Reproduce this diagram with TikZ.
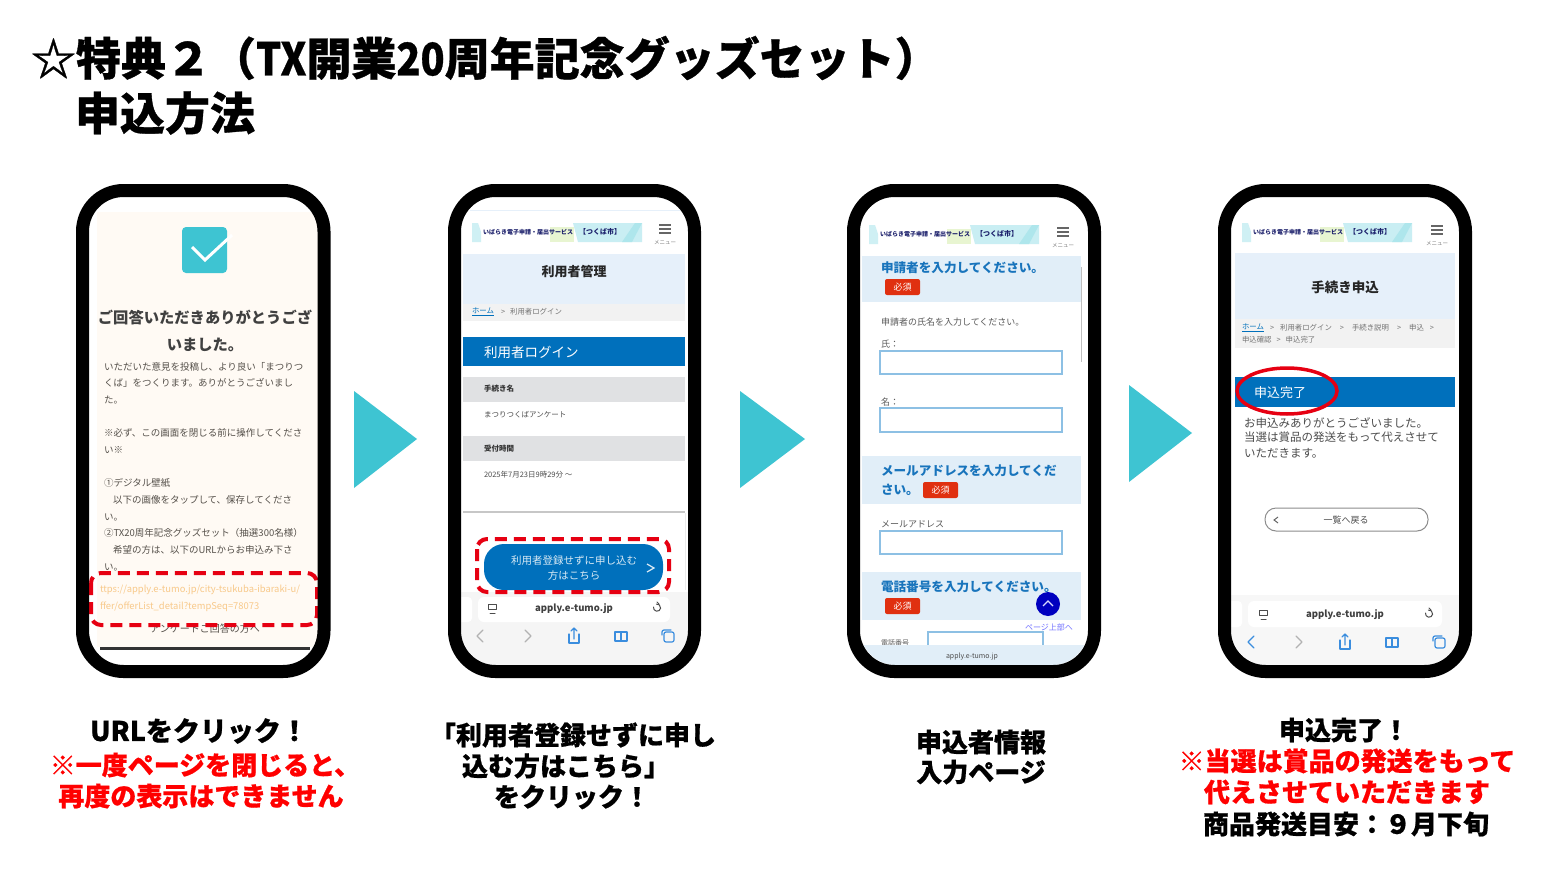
\documentclass[tikz,border=0pt]{standalone}
\usepackage{fontspec}
\usepackage{graphicx}
\setmainfont{Noto Sans CJK JP}
\newfontfamily\hvy{Noto Sans CJK JP}[BoldFeatures={FakeBold=0.7}]
\usetikzlibrary{arrows.meta}
\definecolor{teal1}{HTML}{3EC4D2}
\definecolor{webblue}{HTML}{0070BC}
\definecolor{bandblue}{HTML}{E6F0FA}
\definecolor{formband}{HTML}{E1EEF8}
\definecolor{crumb}{HTML}{F2F2F2}
\definecolor{greyband}{HTML}{E0E1E3}
\definecolor{cream}{HTML}{FFFAF4}
\definecolor{navy}{HTML}{1B1F6B}
\definecolor{headblue}{HTML}{1874BC}
\definecolor{badge}{HTML}{E03010}
\definecolor{inputb}{HTML}{8DC0E4}
\definecolor{redmark}{HTML}{E60012}
\definecolor{capred}{HTML}{FF0000}
\definecolor{urlorange}{HTML}{F8C98A}
\definecolor{bodygrey}{HTML}{55504A}
\definecolor{iosblue}{HTML}{3A8DDE}
\tikzset{
  sz/.style={font=\fontsize{#1}{#1}\selectfont},
  bsz/.style={font=\fontsize{#1}{#1}\selectfont\bfseries},
  hsz/.style={font=\fontsize{#1}{#1}\selectfont\hvy\bfseries},
  txt/.style={inner sep=0pt,outer sep=0pt,anchor=west},
  ctr/.style={inner sep=0pt,outer sep=0pt,anchor=center},
  frame/.style={draw=black,line width=13pt,rounded corners=41pt},
  redbox/.style={draw=redmark,line width=4pt,dashed,dash pattern=on 12pt off 7pt,rounded corners=10pt},
  input/.style={draw=inputb,line width=1.5pt,fill=white},
  arrowtri/.style={fill=teal1,draw=none},
  icon/.style={draw=iosblue,line width=1.2pt,line cap=round,line join=round},
  greyicon/.style={draw=black!30,line width=1.2pt,line cap=round,line join=round},
  darkicon/.style={draw=black!70,line width=1pt,line cap=round,line join=round},
  badgebox/.style={ctr,fill=badge,rounded corners=2pt,minimum width=35pt,minimum height=16pt,sz=9,text=white},
  formhead/.style={txt,bsz=12.6,text=headblue},
  formtext/.style={txt,sz=9,text=black!65},
  body/.style={txt,sz=9.5,text=bodygrey},
}
\newcommand{\weblogo}[4]{% dx dy hamburgerx hamburgery
  \begin{scope}[shift={(#1,#2)}]
    \fill[teal1!25] (472,223) -- (478,223) -- (481,232) -- (481,242) -- (472,242) -- cycle;
    \fill[yellow!50!green!18] (550,227) rectangle (574,242);
    \fill[teal1!28] (573,223) -- (642,223) -- (642,242) -- (578,242) -- cycle;
    \fill[teal1!42] (642,223) -- (635,223) -- (622,242) -- (632,242) -- cycle;
    \node[txt,bsz=6,text=navy] at (483,232) {いばらき電子申請・届出サービス};
    \node[txt,bsz=7,text=navy] at (579,232) {【つくば市】};
  \end{scope}
  \begin{scope}[shift={(#3,#4)}]
    \draw[black!60,line width=1.3pt] (-6,-4) -- (6,-4) (-6,0) -- (6,0) (-6,4) -- (6,4);
    \node[ctr,sz=5.5,text=black!50] at (0,13) {メニュー};
  \end{scope}
}
\newcommand{\navrow}[3]{% x y backcolour style
  \begin{scope}[shift={(#1,#2)}]
    \draw[#3] (5,-6) -- (-1,0) -- (5,6);
    \draw[greyicon] (47,-6) -- (53,0) -- (47,6);
    \draw[icon] (91,-2) -- (91,7) -- (101,7) -- (101,-2);
    \draw[icon] (96,3) -- (96,-8) (93,-5) -- (96,-8) -- (99,-5);
    \draw[icon] (137,-4) rectangle (149,5) (143,-4) -- (143,5);
    \draw[icon,rounded corners=2pt] (186,-4) rectangle (196,6);
    \draw[icon,rounded corners=2pt] (184,-1) -- (184,-6) -- (193,-6);
  \end{scope}
}
\newcommand{\pillicons}[3]{% left x, right x, y
  \draw[darkicon] (#1-4,#3-4) rectangle (#1+4,#3+1) (#1-2,#3+5) -- (#1+3,#3+5);
  \begin{scope}[shift={(#2,#3)}]
    \draw[darkicon] (-3.5,-1) arc[start angle=190,end angle=-100,radius=3.6];
    \draw[darkicon] (0,-6) -- (2,-4);
  \end{scope}
}
\newcommand{\cond}[1]{\scalebox{0.88}[1]{#1}}
\begin{document}
\begin{tikzpicture}[x=1pt,y=-1pt]
\useasboundingbox (0,0) rectangle (1563,880);
\fill[white] (0,0) rectangle (1563,880);

% Title
\node[txt,hsz=45] (title1) at (31,58) {☆特典２（\cond{TX}開業\cond{20}周年記念グッズセット）};
\node[txt,hsz=45] (title2) at (75,113) {申込方法};

% ===== Phone 1
\begin{scope}
\clip[rounded corners=36pt] (89,197) rectangle (318,665);
\fill[white] (89,197) rectangle (318,665);
\fill[cream] (97,212) rectangle (318,647);
\fill[teal1,rounded corners=4pt] (182,227) rectangle (227,273);
\draw[white,line width=3pt] (192,247) -- (205,260) -- (232,235);
\node[ctr,bsz=15.3,text=black!75] (a1) at (205,318) {ご回答いただきありがとうござ};
\node[ctr,bsz=15.3,text=black!75] (a2) at (205,345) {いました。};
\node[body] (a3) at (104,367) {いただいた意見を投稿し、より良い「まつりつ};
\node[body] (a4) at (104,383) {くば」をつくります。ありがとうございまし};
\node[body] (a5) at (104,400) {た。};
\node[body] (a6) at (104,433) {※必ず、この画面を閉じる前に操作してくださ};
\node[body] (a7) at (104,450) {い※};
\node[body] (a8) at (104,483) {①デジタル壁紙};
\node[body] (a9) at (113,500) {以下の画像をタップして、保存してくださ};
\node[body] (a10) at (104,517) {い。};
\node[body] (a11) at (104,533) {②TX20周年記念グッズセット（抽選300名様）};
\node[body] (a12) at (113,550) {希望の方は、以下のURLからお申込み下さ};
\node[body] (a13) at (104,567) {い。};
\node[txt,sz=9.4,text=urlorange] (a14) at (100,590) {ttps://apply.e-tumo.jp/city-tsukuba-ibaraki-u/};
\node[txt,sz=9.4,text=urlorange] (a15) at (100,607) {ffer/offerList\_detail?tempSeq=78073};
\node[ctr,sz=10,text=bodygrey] (a16) at (205,629) {アンケートご回答の方へ};
\draw[black!80,line width=3pt] (100,648) -- (310,648);
\end{scope}
\draw[redbox] (91,573) rectangle (317,625);
\draw[frame] (82.5,190.5) rectangle (324,671.5);

% ===== Phone 2
\begin{scope}
\clip[rounded corners=36pt] (461,197) rectangle (688,665);
\fill[white] (461,197) rectangle (688,665);
\draw[bandblue,line width=1pt] (470,210) -- (682,210);
\weblogo{0}{0}{665}{229}
\fill[bandblue] (463,254) rectangle (685,304);
\node[ctr,bsz=13,text=black!85] (b1) at (574,272) {利用者管理};
\fill[crumb] (463,304) rectangle (685,321);
\node[txt,sz=7.4,text=webblue] (b2) at (472,312) {\underline{ホーム}};
\node[txt,sz=7.4,text=black!55] (b3) at (501,312) {>\hspace{5pt}利用者ログイン};
\fill[webblue] (463,337) rectangle (685,366);
\node[txt,sz=13.5,text=white] (b4) at (484,352) {利用者ログイン};
\fill[greyband] (463,377) rectangle (685,402);
\node[txt,bsz=7.5,text=black!80] (b5) at (484,389) {手続き名};
\node[txt,sz=7.5,text=black!70] (b6) at (484,415) {まつりつくばアンケート};
\fill[greyband] (463,436) rectangle (685,461);
\node[txt,bsz=7.5,text=black!80] (b7) at (484,449) {受付時間};
\node[txt,sz=7.5,text=black!70] (b8) at (484,475) {2025年7月23日9時29分 ～};
\draw[black!22,line width=2pt] (463,512) -- (685,512);
\draw[black!8,line width=.6pt] (685,513) -- (685,590);
\fill[webblue,rounded corners=20pt] (484,544) rectangle (663,590);
\node[ctr,sz=10.5,text=white!85!webblue] (b9) at (574,561) {利用者登録せずに申し込む};
\node[ctr,sz=10.5,text=white!85!webblue] (b10) at (574,576) {方はこちら};
\draw[white!85!webblue,line width=1.2pt] (647,564) -- (654,568) -- (647,572);
\fill[black!4] (461,592) rectangle (688,665);
\fill[white,rounded corners=6pt] (478,597) rectangle (670,622);
\fill[white,rounded corners=4pt] (440,597) rectangle (472,622);
\node[ctr,bsz=9.5,text=black!75] (b11) at (574,609) {apply.e-tumo.jp};
\pillicons{492}{657}{608}
\navrow{478}{636}{greyicon}
\end{scope}
\draw[redbox] (477,539) rectangle (669,592);
\draw[frame] (454.5,190.5) rectangle (694.5,671.5);

% ===== Phone 3
\begin{scope}
\clip[rounded corners=36pt] (860,197) rectangle (1088,665);
\fill[white] (860,197) rectangle (1088,665);
\weblogo{397}{2}{1063}{232}
\fill[formband] (862,256) rectangle (1081,302);
\node[formhead] (c1) at (881,268) {申請者を入力してください。};
\node[badgebox] (c2) at (902.5,287) {必須};
\node[formtext] (c3) at (881,322) {申請者の氏名を入力してください。};
\node[formtext] (c4) at (881,344) {氏：};
\draw[input] (880,351) rectangle (1062,374);
\node[formtext] (c5) at (881,402) {名：};
\draw[input] (880,408) rectangle (1062,432);
\fill[formband] (862,456) rectangle (1081,504);
\node[formhead] (c6) at (881,471) {メールアドレスを入力してくだ};
\node[formhead] (c7) at (881,490) {さい。};
\node[badgebox] (c8) at (940.5,490) {必須};
\node[formtext] (c9) at (881,524) {メールアドレス};
\draw[input] (880,531) rectangle (1062,554);
\fill[formband] (862,572) rectangle (1081,620);
\node[formhead] (c10) at (881,587) {電話番号を入力してください。};
\node[badgebox] (c11) at (902.5,606) {必須};
\draw[black!25,line width=1pt] (1081,267) -- (1081,362);
\fill[blue!75!black] (1048,604) circle (12pt);
\draw[white!85!blue,line width=1.2pt] (1043,606) -- (1048,601) -- (1053,606);
\node[ctr,sz=8,text=blue!55!white] (c12) at (1049,627) {ページ上部へ};
\node[txt,sz=7,text=black!65] (c13) at (881,643) {電話番号};
\draw[input] (928,632) rectangle (1043,680);
\fill[formband] (860,645) rectangle (1088,665);
\node[ctr,sz=7,text=black!70] (c14) at (972,657) {apply.e-tumo.jp};
\end{scope}
\draw[frame] (853.5,190.5) rectangle (1094.5,671.5);

% ===== Phone 4
\begin{scope}
\clip[rounded corners=36pt] (1231,197) rectangle (1459,665);
\fill[white] (1231,197) rectangle (1459,665);
\weblogo{770}{0}{1437}{230}
\fill[bandblue] (1235,253) rectangle (1455,319);
\node[ctr,bsz=13.5,text=black!85] (d1) at (1345,287) {手続き申込};
\fill[crumb] (1235,319) rectangle (1455,348);
\node[txt,sz=7.4,text=webblue] (d2) at (1242,328) {\underline{ホーム}};
\node[txt,sz=7.4,text=black!55] (d3) at (1270,328) {>\hspace{6pt}利用者ログイン\hspace{8pt}>\hspace{8pt}手続き説明\hspace{8pt}>\hspace{8pt}申込\hspace{6pt}>};
\node[txt,sz=7.4,text=black!55] (d4) at (1242,340) {申込確認\hspace{5pt}>\hspace{5pt}申込完了};
\fill[webblue] (1235,377) rectangle (1455,407);
\node[txt,sz=13,text=white] (d5) at (1254,393) {申込完了};
\node[txt,sz=11.5,text=black!70] (d6) at (1244,423) {お申込みありがとうございました。};
\node[txt,sz=11.5,text=black!70] (d7) at (1244,437) {当選は賞品の発送をもって代えさせて};
\node[txt,sz=11.5,text=black!70] (d8) at (1244,453) {いただきます。};
\draw[black!45,line width=1pt,rounded corners=11pt] (1265,508) rectangle (1428,531);
\draw[black!60,line width=1pt] (1278,517) -- (1274,520) -- (1278,523);
\node[ctr,sz=9,text=black!70] (d9) at (1346,520) {一覧へ戻る};
\fill[black!3] (1231,595) rectangle (1459,665);
\fill[white,rounded corners=6pt] (1248,601) rectangle (1442,627);
\fill[white,rounded corners=4pt] (1210,601) rectangle (1242,627);
\node[ctr,bsz=9.5,text=black!75] (d10) at (1345,615) {apply.e-tumo.jp};
\pillicons{1263}{1429}{614}
\navrow{1249}{642}{icon}
\end{scope}
\draw[redmark,line width=3.5pt] (1287,391) ellipse [x radius=50pt,y radius=23pt];
\draw[frame] (1224.5,190.5) rectangle (1465.5,671.5);

% Arrows
\fill[arrowtri] (354,391) -- (417,439) -- (354,488) -- cycle;
\fill[arrowtri] (740,391) -- (805,439) -- (740,488) -- cycle;
\fill[arrowtri] (1129,385) -- (1192,433) -- (1129,482) -- cycle;

% Captions
\node[ctr,hsz=27] (e1) at (199,731) {URLをクリック！};
\node[ctr,hsz=26,text=capred] (e2) at (205,765) {※一度ページを閉じると、};
\node[ctr,hsz=26,text=capred] (e3) at (201,796) {再度の表示はできません};
\node[ctr,hsz=26] (f1) at (573,735) {「利用者登録せずに申し};
\node[ctr,hsz=26] (f2) at (566,766) {込む方はこちら」};
\node[ctr,hsz=26] (f3) at (572,797) {をクリック！};
\node[ctr,hsz=26] (g1) at (981,742) {申込者情報};
\node[ctr,hsz=26] (g2) at (981,772) {入力ページ};
\node[ctr,hsz=26] (h1) at (1344,730) {申込完了！};
\node[ctr,hsz=26,text=capred] (h2) at (1347,761) {※当選は賞品の発送をもって};
\node[ctr,hsz=26,text=capred] (h3) at (1347,792) {代えさせていただきます};
\node[ctr,hsz=26] (h4) at (1346,824) {商品発送目安：９月下旬};
\end{tikzpicture}
\end{document}
